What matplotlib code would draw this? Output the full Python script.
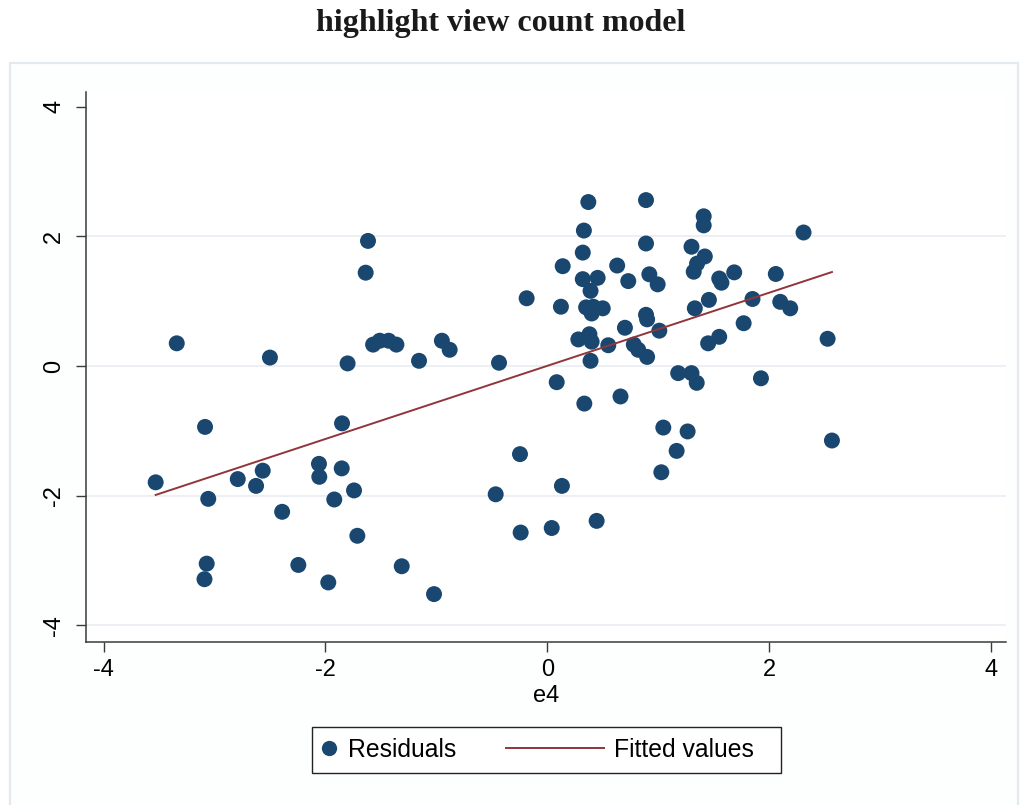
import numpy as np
import matplotlib
matplotlib.use("Agg")
import matplotlib.pyplot as plt
from matplotlib.patches import Rectangle
from matplotlib.lines import Line2D
from matplotlib.legend_handler import HandlerLine2D

# Added-variable data: e4 on the x axis, residuals on the y axis
e4 = [
    -3.53, -3.34, -3.085, -3.056, -3.07, -3.09, -2.79, -2.625, -2.565, -2.50,
    -2.39, -2.244, -2.058, -2.055, -1.974, -1.92, -1.853, -1.85, -1.80, -1.742,
    -1.712, -1.616, -1.637, -1.57, -1.51, -1.43, -1.36, -1.312, -1.156, -1.021,
    -0.95, -0.88, -0.465, -0.435, -0.246, -0.24, -0.186, 0.04, 0.085, 0.123,
    0.132, 0.139, 0.28, 0.32, 0.32, 0.33, 0.334, 0.35, 0.37, 0.38,
    0.39, 0.39, 0.40, 0.40, 0.415, 0.445, 0.454, 0.50, 0.55, 0.63,
    0.66, 0.70, 0.73, 0.78, 0.82, 0.89, 0.89, 0.89, 0.90, 0.90,
    0.92, 0.995, 1.01, 1.028, 1.046, 1.166, 1.18, 1.265, 1.30, 1.30,
    1.32, 1.33, 1.347, 1.35, 1.41, 1.41, 1.42, 1.45, 1.457, 1.55,
    1.55, 1.57, 1.685, 1.77, 1.85, 1.926, 2.06, 2.10, 2.19, 2.31,
    2.527, 2.566,
]
residuals = [
    -1.795, 0.35, -0.94, -2.05, -3.05, -3.29, -1.745, -1.85, -1.615, 0.13,
    -2.25, -3.07, -1.51, -1.71, -3.34, -2.06, -1.58, -0.885, 0.04, -1.92,
    -2.62, 1.93, 1.44, 0.33, 0.39, 0.39, 0.33, -3.09, 0.08, -3.52,
    0.39, 0.25, -1.98, 0.05, -1.36, -2.57, 1.045, -2.50, -0.25, 0.915,
    -1.85, 1.54, 0.41, 1.75, 1.34, 2.09, -0.58, 0.905, 2.53, 0.49,
    1.16, 0.08, 0.81, 0.375, 0.915, -2.39, 1.36, 0.89, 0.32, 1.55,
    -0.47, 0.59, 1.31, 0.33, 0.25, 2.56, 1.89, 0.79, 0.72, 0.14,
    1.415, 1.26, 0.545, -1.64, -0.95, -1.31, -0.11, -1.01, -0.11, 1.84,
    1.455, 0.89, -0.26, 1.58, 2.31, 2.17, 1.69, 0.35, 1.02, 0.45,
    1.35, 1.285, 1.445, 0.66, 1.034, -0.19, 1.42, 0.99, 0.89, 2.06,
    0.42, -1.15,
]

axis_ticks = [-4, -2, 0, 2, 4]
grid_levels = [-4, -2, 0, 2]

title_text = "highlight view count model"
x_label = "e4"
legend_labels = ["Residuals", "Fitted values"]

marker_color = "#1a476f"
fit_color = "#90353b"
spine_color = "#3a3a3a"
grid_color = "#e9eef2"

W, H = 1025, 805


class WideLineHandler(HandlerLine2D):
    """Line handle that reaches further left than the shared handle box."""

    def __init__(self, extra, **kw):
        super().__init__(**kw)
        self.extra = extra

    def get_xdata(self, legend, xdescent, ydescent, width, height, fontsize):
        xdata, xdata_marker = super().get_xdata(legend, xdescent, ydescent,
                                                width, height, fontsize)
        xdata = np.array([xdata[0] - self.extra * fontsize, xdata[-1]])
        return xdata, xdata_marker


plt.rcParams["font.family"] = ["Liberation Sans", "DejaVu Sans"]

fig = plt.figure(figsize=(W / 100, H / 100), dpi=100)
fig.patch.set_facecolor("white")

# light outer graph region
fig.add_artist(Rectangle((10 / W, -0.01), 1008 / W, 1 - 63 / H + 0.01,
                         transform=fig.transFigure, facecolor="#fdfefe",
                         edgecolor="#e2eaf0", linewidth=1.6, zorder=-10))

ax = fig.add_axes([86 / W, 1 - 642 / H, 920 / W, 550 / H])
ax.set_facecolor("white")

x = np.asarray(e4)
y = np.asarray(residuals)

# linear fit over the observed range of e4
slope, intercept = np.polyfit(x, y, 1)
xf = np.array([x.min(), x.max()])
fit_line, = ax.plot(xf, intercept + slope * xf, color=fit_color, lw=1.4, zorder=3)

pts = ax.scatter(x, y, s=132, color=marker_color, edgecolors="none", zorder=2)

for g in grid_levels:
    ax.axhline(g, color=grid_color, lw=1.2, zorder=0)

ax.set_xlim(-4.158, 4.135)
ax.set_ylim(-4.259, 4.228)
ax.set_xticks(axis_ticks)
ax.set_yticks(axis_ticks)
ax.set_xticklabels([str(t) for t in axis_ticks])
ax.set_yticklabels([str(t) for t in axis_ticks])

for side in ("top", "right"):
    ax.spines[side].set_visible(False)
for side in ("left", "bottom"):
    ax.spines[side].set_color(spine_color)
    ax.spines[side].set_linewidth(1.1)

ax.tick_params(axis="both", direction="out", length=7, width=1.0,
               color=spine_color, labelsize=17, labelcolor="black")
ax.tick_params(axis="x", pad=5)
ax.tick_params(axis="y", pad=8, labelrotation=90)
for lbl in ax.get_yticklabels():
    lbl.set_va("center")

ax.set_xlabel(x_label, fontsize=17, labelpad=3)

fig.text(0.488, 1 - 24 / H, title_text, ha="center", va="center",
         fontsize=23, fontweight="bold", family=["Liberation Serif", "DejaVu Serif"],
         color="#1a1a1a")

# legend box below the plot region
fig.add_artist(Rectangle((312 / W, 1 - 773 / H), 469 / W, 46 / H,
                         transform=fig.transFigure, facecolor="white",
                         edgecolor="#222222", linewidth=1.0, zorder=4))

marker_handle = Line2D([], [], marker="o", linestyle="none", markersize=11,
                       markerfacecolor=marker_color, markeredgecolor="none")
line_handle = Line2D([], [], color=fit_color, lw=1.4)
leg = fig.legend([marker_handle, line_handle], legend_labels, loc="center left", ncol=2,
                 bbox_to_anchor=(312 / W, 1 - 750 / H),
                 handler_map={line_handle: WideLineHandler(3.3)},
                 fontsize=17.8, frameon=False,
                 handlelength=0.7, handletextpad=0.4, columnspacing=5.3,
                 borderpad=0.35, borderaxespad=0)
leg.set_zorder(5)

fig.savefig("out.png", dpi=100, facecolor="white")
